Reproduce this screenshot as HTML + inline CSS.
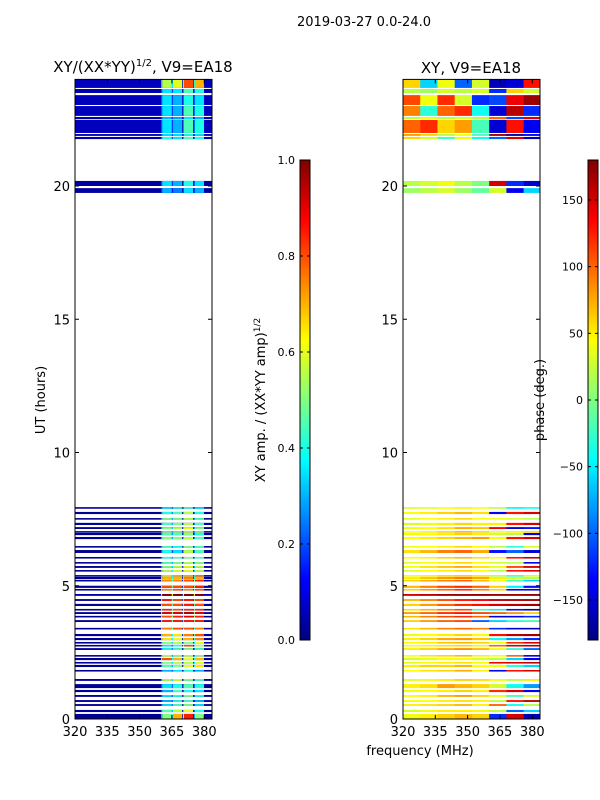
<!DOCTYPE html>
<html><head><meta charset="utf-8">
<style>
html,body{margin:0;padding:0;background:#fff;}
svg{display:block;font-family:"DejaVu Sans","Liberation Sans",sans-serif;}
</style></head>
<body>
<svg id="fig" width="600" height="800" viewBox="0 0 600 800" xmlns="http://www.w3.org/2000/svg">
<rect width="600" height="800" fill="#fff"/>
<text x="364" y="26" font-size="13" text-anchor="middle">2019-03-27 0.0-24.0</text>
<text x="143" y="72" font-size="15" text-anchor="middle">XY/(XX*YY)<tspan font-size="10" dy="-6">1/2</tspan><tspan dy="6">, V9=EA18</tspan></text>
<text x="471" y="73" font-size="15" text-anchor="middle">XY, V9=EA18</text>
<text x="0" y="0" font-size="13" text-anchor="middle" transform="translate(45,400) rotate(-90)">UT (hours)</text>
<text x="0" y="0" font-size="13" text-anchor="middle" transform="translate(265,400) rotate(-90)">XY amp. / (XX*YY amp)<tspan font-size="9" dy="-5">1/2</tspan></text>
<text x="0" y="0" font-size="13" text-anchor="middle" transform="translate(544,400) rotate(-90)">phase (deg.)</text>
<text x="420" y="755" font-size="13" text-anchor="middle">frequency (MHz)</text>
<g id="layer"></g>
</svg>
<script>
// ---- data ----
const freqEdges = [320,328,336,344,352,360,368,376,384];
const ampBandEdges = [[360.5,365],[365.5,369.7],[370.6,374.8],[375.7,379.9]];
const rowStart = [0.00,0.26,0.49,0.64,0.83,1.01,1.16,1.43,1.80,1.95,2.10,2.21,2.36,2.59,2.74,2.85,2.96,3.11,3.38,3.64,3.83,3.94,4.09,4.24,4.43,4.62,4.84,4.92,5.18,5.25,5.37,5.55,5.67,5.85,6.04,6.23,6.45,6.75,6.90,7.02,7.13,7.28,7.50,7.69,7.92,19.74,20.00,21.76,21.88,21.99,22.51,22.63,23.04,23.49,23.68];
const rowEnd   = [0.19,0.34,0.56,0.71,0.90,1.09,1.31,1.50,1.84,2.03,2.14,2.29,2.40,2.66,2.78,2.89,3.04,3.19,3.42,3.71,3.87,4.01,4.13,4.32,4.50,4.69,4.88,5.00,5.22,5.33,5.40,5.59,5.74,5.89,6.08,6.34,6.49,6.83,6.98,7.05,7.20,7.36,7.54,7.77,7.95,19.92,20.19,21.84,21.95,22.48,22.59,23.00,23.41,23.64,24.00];
const lowAmp = [0.02,0.02,0.02,0.02,0.02,0.02,0.02,0.02,0.02,0.02,0.02,0.02,0.02,0.02,0.02,0.02,0.02,0.02,0.02,0.02,0.02,0.02,0.02,0.02,0.02,0.05,0.02,0.02,0.02,0.02,0.02,0.02,0.02,0.02,0.02,0.02,0.02,0.02,0.02,0.02,0.02,0.02,0.02,0.02,0.02,0.03,0.03,0.05,0.05,0.06,0.05,0.06,0.06,0.05,0.06];
const ampBands = [
[0.5,0.7,0.85,0.5],[0.45,0.55,0.6,0.4],[0.35,0.45,0.5,0.35],[0.3,0.4,0.45,0.3],[0.35,0.4,0.5,0.4],
[0.3,0.45,0.4,0.35],[0.35,0.4,0.45,0.4],[0.55,0.6,0.5,0.45],[0.3,0.35,0.4,0.3],[0.45,0.5,0.6,0.65],
[0.5,0.55,0.55,0.6],[0.8,0.7,0.6,0.7],[0.55,0.5,0.55,0.5],[0.4,0.45,0.5,0.45],[0.35,0.4,0.8,0.55],
[0.5,0.55,0.5,0.6],[0.65,0.6,0.7,0.75],[0.7,0.65,0.75,0.8],[0.75,0.8,0.8,0.75],[0.85,0.85,0.85,0.85],
[0.8,0.85,0.9,0.85],[0.9,0.9,0.95,0.9],[0.85,0.8,0.85,0.85],[0.8,0.8,0.85,0.8],[0.85,0.8,0.85,0.8],
[1.0,1.0,1.0,1.0],[0.75,0.8,0.75,0.8],[0.8,0.8,0.8,0.85],[0.75,0.75,0.8,0.85],[0.7,0.7,0.75,0.7],
[0.65,0.7,0.7,0.75],[0.55,0.6,0.6,0.55],[0.5,0.55,0.6,0.55],[0.45,0.5,0.55,0.5],[0.4,0.45,0.5,0.45],
[0.4,0.35,0.55,0.45],[0.45,0.4,0.5,0.45],[0.5,0.5,0.55,0.45],[0.45,0.45,0.5,0.4],[0.5,0.5,0.55,0.5],
[0.5,0.55,0.6,0.5],[0.45,0.5,0.55,0.45],[0.5,0.5,0.55,0.45],[0.4,0.45,0.55,0.4],[0.35,0.4,0.45,0.35],
[0.3,0.25,0.35,0.3],[0.35,0.3,0.4,0.35],[0.4,0.35,0.45,0.4],[0.35,0.35,0.4,0.35],[0.35,0.3,0.45,0.4],
[0.3,0.28,0.35,0.3],[0.35,0.3,0.45,0.4],[0.35,0.3,0.4,0.35],[0.35,0.35,0.45,0.4],[0.55,0.6,0.8,0.7]];
const phaseSegs = [
[40,50,60,70,60,-120,150,-160],[30,40,50,50,40,20,-100,-60],[50,55,60,70,50,100,-40,20],[40,45,50,55,50,20,130,160],[45,50,70,80,60,40,-20,30],
[40,45,50,60,50,120,150,-140],[50,55,80,70,60,30,-40,-80],[35,40,50,60,55,40,20,50],[45,55,60,75,50,-140,130,150],[50,60,60,70,45,40,-30,-60],
[35,45,50,55,45,140,150,160],[30,35,45,40,30,20,-60,-140],[45,55,60,70,50,40,100,-150],[50,60,75,85,70,40,-30,-100],[40,50,55,60,50,100,150,160],
[45,50,65,70,60,40,120,150],[50,60,75,80,65,-40,-80,-120],[40,45,50,60,45,130,160,170],[55,70,90,100,90,-120,-150,-160],[60,80,100,110,-100,-60,-30,-20],
[70,90,110,120,100,-150,-140,-120],[80,100,120,130,110,100,80,60],[55,70,90,110,-30,-50,-130,-160],[60,80,100,120,130,150,160,170],[70,90,110,130,140,160,165,170],
[150,160,170,175,175,170,170,175],[60,80,100,120,90,60,-140,-150],[70,90,110,120,100,60,-50,-130],[60,75,90,100,70,40,-20,-60],[50,65,80,90,75,50,30,20],
[40,50,60,65,55,20,-20,30],[30,45,50,60,45,20,130,150],[45,55,65,75,55,40,110,150],[35,45,50,60,45,30,20,-140],[45,50,60,70,55,40,130,160],
[55,70,90,100,75,-130,-100,-150],[40,45,50,60,45,20,-30,30],[45,50,60,70,80,40,130,150],[40,45,50,60,50,30,20,-140],[45,50,60,70,60,40,50,60],
[40,45,55,75,65,140,-150,-130],[30,40,50,60,50,50,130,150],[35,45,50,60,45,40,30,20],[45,50,60,70,55,-140,130,150],[30,35,45,50,45,20,-50,-40],
[10,20,30,10,-10,30,-140,-60],[20,30,40,20,0,150,-120,-150],[60,30,-20,40,-40,-100,150,-160],[80,60,20,40,-20,170,-170,-140],
[100,120,60,80,-20,-150,130,-140],[20,40,20,30,20,100,-110,150],[90,-30,100,120,-40,-150,160,-120],[110,40,120,30,-120,-110,140,170],
[20,10,30,20,30,-120,60,30],[60,-60,40,-100,30,-160,-150,130]];

// ---- helpers ----
const NS='http://www.w3.org/2000/svg';
const layer=document.getElementById('layer');
function cl(x){return Math.max(0,Math.min(1,x));}
function jet(v){v=cl(v);const r=cl(1.5-Math.abs(4*v-3)),g=cl(1.5-Math.abs(4*v-2)),b=cl(1.5-Math.abs(4*v-1));
 return 'rgb('+Math.round(r*255)+','+Math.round(g*255)+','+Math.round(b*255)+')';}
function mk(tag,attrs,parent){const e=document.createElementNS(NS,tag);for(const k in attrs)e.setAttribute(k,attrs[k]);(parent||layer).appendChild(e);return e;}
const Y0=719,Y1=79.4;
function yS(h){return Y0+(Y1-Y0)*h/24;}
function xS(x0,f){return x0+(f-320)*(137/63.6);}
const panels=[{x0:75,name:'amp'},{x0:403,name:'phase'}];
const W=137;

// amplitude heatmap
const gA=mk('g',{});


for(let i=0;i<rowStart.length;i++){
 const yt=yS(rowEnd[i]), yb=yS(rowStart[i]); const h=Math.max(1.6,yb-yt);
 const base=mk('rect',{x:75,y:yt,width:W,height:h,fill:jet(lowAmp[i])},gA);
 
 
 for(let b=0;b<4;b++){
  const xa=xS(75,ampBandEdges[b][0]), xb=xS(75,ampBandEdges[b][1]);
  const gp=mk('rect',{x:xa-1.2,y:yt,width:1.2,height:h,fill:jet(ampBands[i][b]*0.6)},gA);
  
  
  const c=mk('rect',{x:xa,y:yt,width:xb-xa,height:h,fill:jet(ampBands[i][b])},gA);
  
  
 }
}
// phase heatmap
const gP=mk('g',{});


for(let i=0;i<rowStart.length;i++){
 const yt=yS(rowEnd[i]), yb=yS(rowStart[i]); const h=Math.max(1.6,yb-yt);
 for(let s=0;s<8;s++){
  const xa=xS(403,freqEdges[s]), xb=Math.min(403+W,xS(403,freqEdges[s+1]));
  const c=mk('rect',{x:xa,y:yt,width:xb-xa+0.3,height:h,fill:jet((phaseSegs[i][s]+180)/360)},gP);
  
  
 }
}

// axes
const yTicks=[0,5,10,15,20];
const xTicks=[320,335,350,365,380];
panels.forEach(p=>{
 const fr=mk('rect',{x:p.x0,y:Y1,width:W,height:Y0-Y1,fill:'none',stroke:'#000','stroke-width':1});
 
 
 yTicks.forEach(t=>{
  const y=yS(t);
  mk('line',{x1:p.x0,x2:p.x0+4,y1:y,y2:y,stroke:'#000'});
  mk('line',{x1:p.x0+W-4,x2:p.x0+W,y1:y,y2:y,stroke:'#000'});
  const tx=mk('text',{x:p.x0-5,y:y+5,'font-size':13,'text-anchor':'end'});
  tx.textContent=t;
  
  
 });
 xTicks.forEach(t=>{
  const x=xS(p.x0,t);
  mk('line',{x1:x,x2:x,y1:Y0,y2:Y0-4,stroke:'#000'});
  mk('line',{x1:x,x2:x,y1:Y1,y2:Y1+4,stroke:'#000'});
  const tx=mk('text',{x:x,y:736,'font-size':13,'text-anchor':'middle'});
  tx.textContent=t;
  
  
 });
});

// colorbars
const cbTop=160,cbBot=640;
const ampCbTicks=['0.0','0.2','0.4','0.6','0.8','1.0'];
const phCbTicks=[-150,-100,-50,0,50,100,150];
const defs=mk('defs',{});
const lg=mk('linearGradient',{id:'jetg',x1:0,y1:1,x2:0,y2:0},defs);
for(let k=0;k<=32;k++)mk('stop',{offset:k/32,'stop-color':jet(k/32)},lg);
[[300,'amp-colorbar'],[588,'phase-colorbar']].forEach(([x,n])=>{
 const r=mk('rect',{x:x,y:cbTop,width:10,height:cbBot-cbTop,fill:'url(#jetg)',stroke:'#000','stroke-width':1});
 
 
});
ampCbTicks.forEach(t=>{
 const y=cbBot-(cbBot-cbTop)*parseFloat(t);
 mk('line',{x1:300,x2:303,y1:y,y2:y,stroke:'#000'});mk('line',{x1:307,x2:310,y1:y,y2:y,stroke:'#000'});
 const tx=mk('text',{x:295,y:y+4,'font-size':11,'text-anchor':'end'});tx.textContent=t;
 
 
});
phCbTicks.forEach(t=>{
 const y=cbBot-(cbBot-cbTop)*(t+180)/360;
 mk('line',{x1:588,x2:591,y1:y,y2:y,stroke:'#000'});mk('line',{x1:595,x2:598,y1:y,y2:y,stroke:'#000'});
 const tx=mk('text',{x:583,y:y+4,'font-size':11,'text-anchor':'end'});tx.textContent=(t<0?'\u2212'+(-t):t);
 
 
});
</script>
</body></html>
